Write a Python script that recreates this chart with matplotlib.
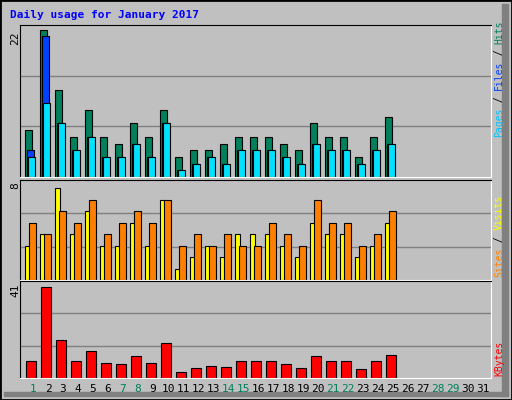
import matplotlib
matplotlib.use("Agg")
import matplotlib.pyplot as plt
from matplotlib.patches import Rectangle

days = list(range(1, 32))
hits = [7, 22, 13, 6, 10, 6, 5, 8, 6, 10, 3, 4, 4, 5, 6, 6, 6, 5, 4, 8, 6, 6, 3, 6, 9]
files = [4, 21, 8, 4, 6, 3, 3, 5, 3, 8, 1, 2, 3, 2, 4, 4, 4, 3, 2, 5, 4, 4, 2, 4, 5]
pages = [3, 11, 8, 4, 6, 3, 3, 5, 3, 8, 1, 2, 3, 2, 4, 4, 4, 3, 2, 5, 4, 4, 2, 4, 5]
visits = [3, 4, 8, 4, 6, 3, 3, 5, 3, 7, 1, 2, 3, 2, 4, 4, 4, 3, 2, 5, 4, 4, 2, 3, 5]
sites = [5, 4, 6, 5, 7, 4, 5, 6, 5, 7, 3, 4, 3, 4, 3, 3, 5, 4, 3, 7, 5, 5, 3, 4, 6]
kbytes = [7.8, 41, 17.2, 7.8, 12.3, 6.9, 6.4, 10, 6.9, 15.9, 2.8, 4.6, 5.5, 5.1, 7.8,
          7.8, 7.8, 6.4, 4.6, 10, 7.8, 7.8, 4.2, 7.8, 10.5]
weekends = [1, 7, 8, 14, 15, 21, 22, 28, 29]

W, H = 512, 400
BG = "#C0C0C0"
MONO = "DejaVu Sans Mono"
fig = plt.figure(figsize=(W / 100, H / 100), dpi=100, facecolor=BG)

# bevelled frame
fig.patches.append(Rectangle((0, 0), 1, 1, transform=fig.transFigure, fill=False, edgecolor="black", lw=2))
fig.patches.append(Rectangle((502 / W, 4 / H), 6 / W, 392 / H, transform=fig.transFigure, color="#808080"))
fig.patches.append(Rectangle((4 / W, 4 / H), 504 / W, 4 / H, transform=fig.transFigure, color="#808080"))

def px_axes(top, bottom):
    left, right = 20, 491
    return fig.add_axes([left / W, 1 - bottom / H, (right - left) / W, (bottom - top) / H])

def style(ax, ymax, frac):
    ax.set_facecolor(BG)
    ax.set_xlim(0, 471 / 15)
    ax.set_ylim(0, ymax / frac)
    for f in (1 / 3, 2 / 3):
        ax.axhline(ymax / frac * f, color="#808080", lw=1, zorder=0)
    ax.set_xticks([])
    ax.set_yticks([])
    for s in ax.spines.values():
        s.set_color("white")
    ax.spines["left"].set_color("black")
    ax.spines["top"].set_color("black")

n = len(hits)
x0 = [d - 1 + 5 / 15 for d in range(1, n + 1)]
u = 1 / 15
ek = dict(edgecolor="black", linewidth=0.8, align="edge")

ax1 = px_axes(25, 177)
style(ax1, 22, 147.4 / 152)
ax1.bar(x0, hits, width=7 * u, color="#00805C", **ek)
ax1.bar([x + 2 * u for x in x0], files, width=7 * u, color="#0040FF", **ek)
ax1.bar([x + 3 * u for x in x0], pages, width=7 * u, color="#00E0FF", **ek)

ax2 = px_axes(180, 280)
style(ax2, 8, 92 / 100)
ax2.bar(x0, visits, width=5 * u, color="#FFFF00", **ek)
ax2.bar([x + 4.3 * u for x in x0], sites, width=7 * u, color="#FF8000", **ek)

ax3 = px_axes(281, 378)
style(ax3, 41, 91.3 / 97)
ax3.bar([x + 1 * u for x in x0], kbytes, width=10 * u, color="#FF0000", **ek)

# day labels
for d in days:
    fig.text((20 + (d - 1) * 15 + 13) / W, 1 - 389 / H, str(d), ha="center", va="center",
             family=MONO, fontsize=8, color="#00805C" if d in weekends else "black")

# max labels
for y, t in [(38, "22"), (186, "8"), (290, "41")]:
    fig.text(15 / W, 1 - y / H, t, rotation=90, ha="center", va="center", family=MONO, fontsize=8)

fig.text(10 / W, 1 - 15 / H, "Daily usage for January 2017", ha="left", va="center",
         family=MONO, fontsize=8, fontweight="bold", color="#0000FF")

def vlabel(ybottom, parts):
    y = ybottom
    for t, c in parts:
        fig.text(499 / W, 1 - y / H, t, rotation=90, ha="center", va="bottom",
                 family=MONO, fontsize=7, color=c)
        y -= len(t) * 5.84

vlabel(137, [("Pages", "#00C0FF"), (" / ", "black"), ("Files", "#0040FF"), (" / ", "black"), ("Hits", "#00805C")])
vlabel(277, [("Sites", "#FF8000"), (" / ", "black"), ("Visits", "#FFFF00")])
vlabel(376, [("KBytes", "#FF0000")])

fig.savefig("out.png", dpi=100, facecolor=BG)
